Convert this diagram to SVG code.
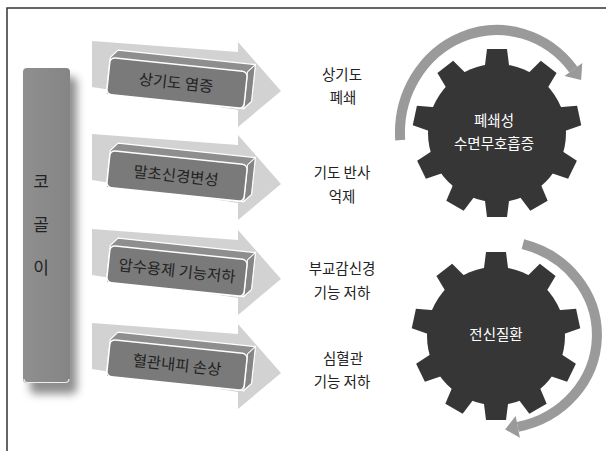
<svg xmlns="http://www.w3.org/2000/svg" xmlns:xlink="http://www.w3.org/1999/xlink" width="606" height="451" viewBox="0 0 606 451">
<style>
.t{font-family:"Noto Sans CJK KR","Noto Sans",sans-serif;fill:#222;text-anchor:middle}
.bt{font-size:15.5px}
.rt{font-size:14.5px}
.gt{font-family:"Noto Sans CJK KR","Noto Sans",sans-serif;fill:#fff;font-size:14.5px;text-anchor:middle}
.la{fill:#d2d2d2}
.hull{fill:#8e8e8e;stroke:#fff;stroke-width:1.2;stroke-linejoin:round}
.side{fill:#858585;stroke:#fff;stroke-width:1}
.front{fill:#7a7a7a;stroke:#fff;stroke-width:1.5}
.gear{fill:#363636}
.arc{fill:none;stroke:#9a9a9a;stroke-width:10}
.ah{fill:#9a9a9a}
</style>
<defs>
<filter id="blur" x="-40%" y="-10%" width="180%" height="130%"><feGaussianBlur stdDeviation="4"/></filter>
<linearGradient id="barg" x1="0" y1="0" x2="1" y2="0"><stop offset="0" stop-color="#8f8f8f"/><stop offset="1" stop-color="#858585"/></linearGradient>
<polygon id="tooth" points="-13,-60 -10,-84 10,-84 13,-60"/>
<g id="gearShape">
<circle r="69"/>
<use xlink:href="#tooth"/>
<use xlink:href="#tooth" transform="rotate(38)"/>
<use xlink:href="#tooth" transform="rotate(78)"/>
<use xlink:href="#tooth" transform="rotate(116)"/>
<use xlink:href="#tooth" transform="rotate(150)"/>
<use xlink:href="#tooth" transform="rotate(180)"/>
<use xlink:href="#tooth" transform="rotate(-38)"/>
<use xlink:href="#tooth" transform="rotate(-78)"/>
<use xlink:href="#tooth" transform="rotate(-116)"/>
<use xlink:href="#tooth" transform="rotate(-150)"/>
</g>
<g id="box3d">
<polygon class="hull" points="108,64.5 115,56.5 253,56.5 253,93.5 246,101.5 108,101.5"/>
<polygon class="side" points="246,64.5 253,56.5 253,93.5 246,101.5"/>
<rect class="front" x="108" y="64.5" width="138" height="37" rx="5"/>
</g>
<polygon id="bigArrow" class="la" points="92,41 238,52 238,42 281,91 238,127 238,110 92,87"/>
</defs>

<!-- frame -->
<path d="M7,451 V8 H606" fill="none" stroke="#333" stroke-width="1.5"/>

<!-- left bar -->
<g id="snoring">
<rect x="30" y="77" width="47" height="317" rx="5" fill="#6a6a6a" opacity="0.75" filter="url(#blur)"/>
<rect x="23" y="68" width="47" height="315" rx="4" fill="url(#barg)"/>
<path d="M24,379 Q24,382.5 28,382.5 H65 Q69,382.5 69,379" fill="none" stroke="#eee" stroke-width="1.2"/>
<text class="t" x="41" y="188" font-size="17">코</text>
<text class="t" x="41" y="231" font-size="17">골</text>
<text class="t" x="41" y="274" font-size="17">이</text>
</g>

<!-- arrows -->
<g id="arrow1">
<use xlink:href="#bigArrow"/>
<g transform="rotate(6 177 83)"><use xlink:href="#box3d"/><text class="t bt" x="176" y="88.5">상기도 염증</text></g>
</g>
<g id="arrow2" transform="translate(0,93)">
<use xlink:href="#bigArrow"/>
<g transform="rotate(6 177 83)"><use xlink:href="#box3d"/><text class="t bt" x="176" y="88.5">말초신경변성</text></g>
</g>
<g id="arrow3" transform="translate(0,188)">
<use xlink:href="#bigArrow"/>
<g transform="rotate(6 177 83)"><use xlink:href="#box3d"/><text class="t bt" x="177" y="88.5" font-size="15">압수용제 기능저하</text></g>
</g>
<g id="arrow4" transform="translate(0,282)">
<use xlink:href="#bigArrow"/>
<g transform="rotate(6 177 83)"><use xlink:href="#box3d"/><text class="t bt" x="177" y="88.5">혈관내피 손상</text></g>
</g>

<!-- middle labels -->
<g id="label1"><text class="t rt" x="342" y="80">상기도</text><text class="t rt" x="343" y="103">폐쇄</text></g>
<g id="label2"><text class="t rt" x="342" y="178">기도 반사</text><text class="t rt" x="342" y="202">억제</text></g>
<g id="label3"><text class="t rt" x="342" y="274">부교감신경</text><text class="t rt" x="342" y="298">기능 저하</text></g>
<g id="label4"><text class="t rt" x="343" y="364">심혈관</text><text class="t rt" x="342" y="387">기능 저하</text></g>

<!-- connectors (curved arrows) -->
<g id="connectors">
<path class="arc" d="M400.2,140.2 A97,103 0 0 1 573.4,69.6"/>
<polygon class="ah" points="582.3,63.1 564.5,76.1 581.1,80.1"/>
<path class="arc" d="M522.9,244.2 A100,94 0 0 1 517.8,426.9"/>
<polygon class="ah" points="519.9,437.7 515.7,416.1 505.1,429.4"/>
</g>

<!-- gears -->
<g id="gear1">
<use xlink:href="#gearShape" class="gear" transform="translate(497,133)"/>
<text class="gt" x="494" y="126">폐쇄성</text>
<text class="gt" x="494" y="149">수면무호흡증</text>
</g>
<g id="gear2">
<use xlink:href="#gearShape" class="gear" transform="translate(496,336)"/>
<text class="gt" x="496" y="340">전신질환</text>
</g>
</svg>
